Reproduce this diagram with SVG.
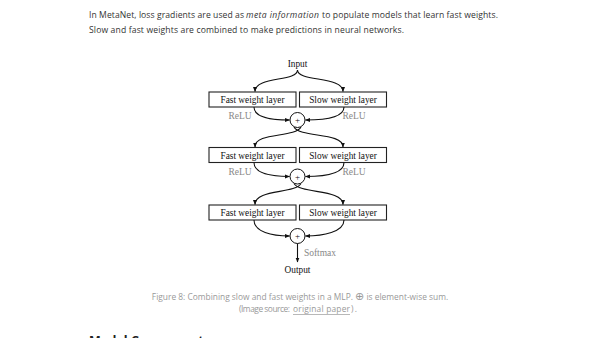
<svg xmlns="http://www.w3.org/2000/svg" width="600" height="338" viewBox="0 0 600 338">
<style>
.body{font-family:"Open Sans","Noto Sans",sans-serif;font-size:8.6px;fill:#333}
.cap{font-family:"Open Sans","Noto Sans",sans-serif;font-size:8.4px;fill:#999}
.h{font-family:"Open Sans","Noto Sans",sans-serif;font-size:12.5px;font-weight:bold;fill:#222}
.box{fill:#fff;stroke:#222;stroke-width:1.1}
.lbl{font-family:"Liberation Serif","Times New Roman",serif;font-size:9.3px;fill:#111;text-anchor:middle}
.gray{font-family:"Liberation Serif","Times New Roman",serif;font-size:9.5px;fill:#888;text-anchor:middle}
.sum{fill:#fff;stroke:#111;stroke-width:1}
.plus{font-family:"Liberation Serif",serif;font-size:9px;fill:#111;text-anchor:middle}
.c{fill:none;stroke:#111;stroke-width:1.1;marker-end:url(#ah)}
</style>
<defs>
<marker id="ah" viewBox="0 0 10 10" refX="9" refY="5" markerWidth="5" markerHeight="5" orient="auto" markerUnits="userSpaceOnUse">
<path d="M0,1 L10,5 L0,9 Z" fill="#111"/>
</marker>
</defs>
<rect width="600" height="338" fill="#fff"/>
<text class="body" x="89" y="18" textLength="155" lengthAdjust="spacing">In MetaNet, loss gradients are used as</text>
<text class="body" x="246" y="18" textLength="73" lengthAdjust="spacing" font-style="italic">meta information</text>
<text class="body" x="322" y="18" textLength="176" lengthAdjust="spacing">to populate models that learn fast weights.</text>
<text class="body" x="89" y="33" textLength="315" lengthAdjust="spacing">Slow and fast weights are combined to make predictions in neural networks.</text>

<g id="input"><text class="lbl" x="297.5" y="67">Input</text></g>
<g id="fast1"><rect class="box" x="209" y="92" width="87" height="15"/><text class="lbl" x="252.5" y="103">Fast weight layer</text></g>
<g id="slow1"><rect class="box" x="299.5" y="92" width="87" height="15"/><text class="lbl" x="343" y="103">Slow weight layer</text></g>
<g id="sum1"><circle class="sum" cx="297.5" cy="120" r="7.5"/><text class="plus" x="297.5" y="123">+</text></g>
<g id="fast2"><rect class="box" x="209" y="147.5" width="87" height="15"/><text class="lbl" x="252.5" y="158.5">Fast weight layer</text></g>
<g id="slow2"><rect class="box" x="299.5" y="147.5" width="87" height="15"/><text class="lbl" x="343" y="158.5">Slow weight layer</text></g>
<g id="sum2"><circle class="sum" cx="297.5" cy="176.5" r="7.5"/><text class="plus" x="297.5" y="179.5">+</text></g>
<g id="fast3"><rect class="box" x="209" y="205" width="87" height="15"/><text class="lbl" x="252.5" y="216">Fast weight layer</text></g>
<g id="slow3"><rect class="box" x="299.5" y="205" width="87" height="15"/><text class="lbl" x="343" y="216">Slow weight layer</text></g>
<g id="sum3"><circle class="sum" cx="297.5" cy="236" r="7.5"/><text class="plus" x="297.5" y="239">+</text></g>
<g id="output"><text class="lbl" x="297.5" y="273">Output</text></g>

<g id="labels">
<text class="gray" x="240" y="119">ReLU</text>
<text class="gray" x="354" y="119">ReLU</text>
<text class="gray" x="240" y="175">ReLU</text>
<text class="gray" x="354" y="175">ReLU</text>
<text class="gray" x="320" y="256">Softmax</text>
</g>

<g id="connectors">
<path class="c" d="M297.5,70 C297.5,82 255,76 255,91.5"/>
<path class="c" d="M297.5,70 C297.5,82 343,76 343,91.5"/>
<path class="c" d="M254,107 C254,118 272,120 289.5,120"/>
<path class="c" d="M344,107 C344,118 323,120 305.5,120"/>
<path class="c" d="M301,127 C295,138 255,132 255,147"/>
<path class="c" d="M294,127 C300,138 343,132 343,147"/>
<path class="c" d="M254,162.5 C254,174 272,176.5 289.5,176.5"/>
<path class="c" d="M344,162.5 C344,174 323,176.5 305.5,176.5"/>
<path class="c" d="M301,183.5 C295,194 255,189 255,204.5"/>
<path class="c" d="M294,183.5 C300,194 343,189 343,204.5"/>
<path class="c" d="M254,220 C254,232 272,236 289.5,236"/>
<path class="c" d="M344,220 C344,232 323,236 305.5,236"/>
<path class="c" d="M297.5,243.5 L297.5,262"/>
</g>

<text class="cap" x="300" y="300" text-anchor="middle">Figure 8: Combining slow and fast weights in a MLP. <tspan font-family="DejaVu Sans, sans-serif" font-size="11px">⊕</tspan> is element-wise sum.</text>
<text class="cap" x="239" y="312" textLength="51" lengthAdjust="spacing">(Image source:</text>
<text class="cap" x="293" y="312" textLength="57" lengthAdjust="spacing" fill="#888">original paper</text>
<text class="cap" x="351" y="312" textLength="6" lengthAdjust="spacing">).</text>
<line x1="293" y1="314.5" x2="350" y2="314.5" stroke="#999" stroke-width="0.7"/>
<text class="h" x="89" y="345">Model Components</text>
</svg>
